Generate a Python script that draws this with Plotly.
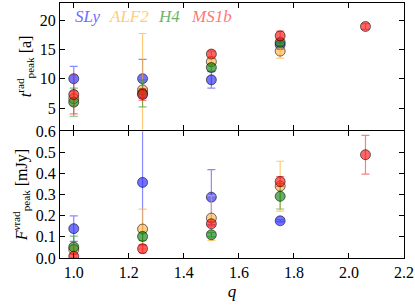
import plotly.graph_objects as go
from plotly.subplots import make_subplots

# ---- data ----
eos_names = ["SLy", "ALF2", "H4", "MS1b"]
q_sly = [1.0, 1.25, 1.5, 1.75]
q_alf2 = [1.0, 1.25, 1.5, 1.75]
q_h4 = [1.0, 1.25, 1.5, 1.75]
q_ms1b = [1.0, 1.25, 1.5, 1.75, 2.06]

t_sly = [10.0, 10.0, 9.8, 15.8]
t_sly_err = [2.1, 3.3, 1.4, 0.8]
t_alf2 = [6.6, 8.1, 12.9, 14.7]
t_alf2_err = [1.2, 9.6, 0.5, 1.2]
t_h4 = [6.0, 7.5, 11.9, 16.2]
t_h4_err = [2.4, 2.3, 0.6, 0.6]
t_ms1b = [7.3, 7.3, 14.2, 17.3, 18.9]
t_ms1b_err = [3.3, 1.0, 0.5, 0.8, 0.5]

f_sly = [0.139, 0.358, 0.288, 0.176]
f_sly_err = [0.06, 0.30, 0.13, 0.005]
f_alf2 = [0.04, 0.137, 0.189, 0.34]
f_alf2_err = [0.02, 0.094, 0.106, 0.118]
f_h4 = [0.052, 0.102, 0.110, 0.292]
f_h4_err = [0.052, 0.02, 0.01, 0.06]
f_ms1b = [0.008, 0.044, 0.162, 0.362, 0.489]
f_ms1b_err = [0.01, 0.02, 0.01, 0.023, 0.092]

x_ticks = [1.0, 1.2, 1.4, 1.6, 1.8, 2.0, 2.2]
t_ticks = [5, 10, 15, 20]
f_ticks = [0.0, 0.1, 0.2, 0.3, 0.4, 0.5, 0.6]

# ---- styles ----
fill = {"SLy": "rgba(40,40,255,0.65)", "ALF2": "rgba(255,170,40,0.55)",
        "H4": "rgba(20,130,20,0.65)", "MS1b": "rgba(255,20,20,0.65)"}
errc = {"SLy": "rgba(60,60,255,0.6)", "ALF2": "rgba(255,180,60,0.7)",
        "H4": "rgba(40,150,40,0.6)", "MS1b": "rgba(255,40,40,0.6)"}
textc = {"SLy": "rgba(110,110,255,1)", "ALF2": "rgba(255,205,120,1)",
         "H4": "rgba(110,180,110,1)", "MS1b": "rgba(255,120,120,1)"}

FONT = "Liberation Serif"

fig = make_subplots(rows=2, cols=1, shared_xaxes=True, vertical_spacing=0)

series_t = [("SLy", q_sly, t_sly, t_sly_err), ("ALF2", q_alf2, t_alf2, t_alf2_err),
            ("H4", q_h4, t_h4, t_h4_err), ("MS1b", q_ms1b, t_ms1b, t_ms1b_err)]
series_f = [("SLy", q_sly, f_sly, f_sly_err), ("ALF2", q_alf2, f_alf2, f_alf2_err),
            ("H4", q_h4, f_h4, f_h4_err), ("MS1b", q_ms1b, f_ms1b, f_ms1b_err)]

for row, series in ((1, series_t), (2, series_f)):
    for name, xs, ys, es in series:
        fig.add_trace(go.Scatter(
            x=xs, y=ys, mode="markers", name=name, showlegend=False,
            marker=dict(size=10, color=fill[name],
                        line=dict(color="rgba(0,0,0,0.55)", width=1)),
            error_y=dict(type="data", array=es, visible=True,
                         color=errc[name], thickness=1.2, width=4),
        ), row=row, col=1)

axis_common = dict(showline=True, linecolor="black", linewidth=1.2, mirror="ticks",
                   ticks="inside", ticklen=5, tickwidth=1.2, tickcolor="black",
                   showgrid=False, zeroline=False, automargin=False,
                   tickfont=dict(family=FONT, size=16, color="black"))

fig.update_xaxes(range=[0.95, 2.2], tickvals=x_ticks, **axis_common)
fig.update_xaxes(showticklabels=False, row=1, col=1)
fig.update_xaxes(ticktext=[f"{v:.1f}" for v in x_ticks], row=2, col=1,
                 title=dict(text="<i>q</i>", font=dict(family=FONT, size=17), standoff=4))

fig.update_yaxes(range=[1.3, 22.9], tickvals=t_ticks, row=1, col=1, domain=[0.503, 1.0],
                 title=dict(text="<i>t</i><sup>rad</sup><sub>peak</sub> [a]",
                            font=dict(family=FONT, size=16), standoff=4), **axis_common)
fig.update_yaxes(range=[0, 0.6], tickvals=f_ticks, domain=[0.0, 0.497],
                 ticktext=[f"{v:.1f}" for v in f_ticks], row=2, col=1,
                 title=dict(text="<i>F</i><sup><i>ν</i>rad</sup><sub>peak</sub> [mJy]",
                            font=dict(family=FONT, size=16), standoff=4), **axis_common)

# legend-like colored labels
label_x = [0.038, 0.138, 0.28, 0.376]
for name, lx in zip(eos_names, label_x):
    fig.add_annotation(text=f"<i>{name}</i>", x=lx, y=0.985, xref="x domain", yref="y domain",
                       xanchor="left", yanchor="top", showarrow=False,
                       font=dict(family=FONT, size=17, color=textc[name]))

fig.update_layout(width=415, height=306, margin=dict(l=60, r=11, t=3, b=48, autoexpand=False),
                  plot_bgcolor="white", paper_bgcolor="white",
                  font=dict(family=FONT, color="black"))

fig.write_html("out.html", config={"displayModeBar": False},
               post_script="document.body.style.margin='0';document.body.style.padding='0';")
